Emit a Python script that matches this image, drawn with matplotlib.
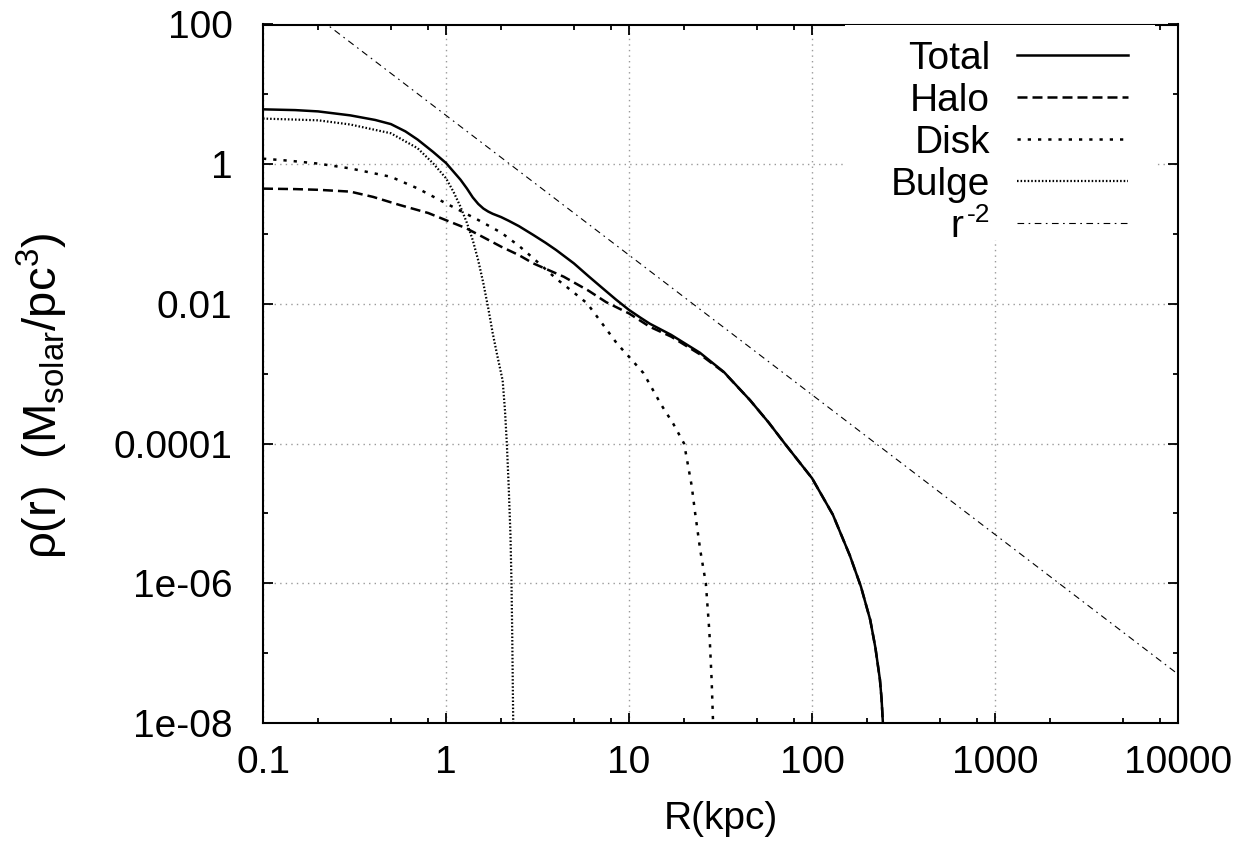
import numpy as np
import matplotlib
matplotlib.use("Agg")
import matplotlib.pyplot as plt
from matplotlib.ticker import FixedLocator, NullFormatter
from matplotlib.patches import Rectangle
from matplotlib.lines import Line2D

plt.rcParams["font.family"] = ["Liberation Sans", "DejaVu Sans"]
plt.rcParams["mathtext.fontset"] = "custom"
plt.rcParams["mathtext.rm"] = "Liberation Sans"
plt.rcParams["mathtext.default"] = "regular"

# Density profiles (R in kpc, rho in Msolar/pc^3)
r_total = [0.1, 0.15, 0.2, 0.3, 0.41, 0.5, 0.6, 0.7, 0.85, 1.0, 1.1, 1.2, 1.3, 1.4, 1.5, 1.6,
           1.7, 1.8, 2.0, 2.2, 2.5, 3.0, 3.5, 4.0, 5.0, 6.0, 7.0, 8.5, 10, 11.5, 13, 17, 24.4,
           33, 45.8, 58, 71, 100, 130, 161, 185, 208, 222, 235, 240, 244]
rho_total = [6.1, 5.95, 5.7, 5.0, 4.3, 3.75, 2.95, 2.25, 1.5, 1.04, 0.78, 0.6, 0.45, 0.335, 0.27,
             0.232, 0.21, 0.195, 0.175, 0.155, 0.13, 0.097, 0.075, 0.059, 0.038, 0.025, 0.0177,
             0.0115, 0.0082, 0.0064, 0.0052, 0.0036, 0.002, 0.00106, 4.2e-4, 2.0e-4, 1e-4,
             3.2e-5, 9.6e-6, 2.5e-6, 9e-7, 3e-7, 1.2e-7, 4.2e-8, 2.2e-8, 1e-8]

r_halo = [0.1, 0.15, 0.2, 0.3, 0.4, 0.56, 0.8, 1.05, 1.29, 1.6, 2.0, 2.5, 3.0, 4.4, 6.0, 7.5,
          10, 13, 17, 24.4, 33, 45.8, 58, 71, 100, 130, 161, 185, 208, 222, 235, 240, 244]
rho_halo = [0.447, 0.44, 0.43, 0.405, 0.34, 0.26, 0.2, 0.15, 0.121, 0.09, 0.066, 0.05, 0.038,
            0.0245, 0.0155, 0.0106, 0.0073, 0.0047, 0.0034, 0.0019, 0.00105, 4.2e-4, 2.0e-4,
            1e-4, 3.2e-5, 9.6e-6, 2.5e-6, 9e-7, 3e-7, 1.2e-7, 4.2e-8, 2.2e-8, 1e-8]

r_disk = [0.1, 0.14, 0.2, 0.3, 0.5, 0.7, 1.0, 1.5, 2.0, 2.5, 3.0, 4.0, 5.0, 5.9, 6.9, 8.6, 10,
          12, 15, 17.5, 20, 22, 23, 24.5, 26.3, 27.5, 28.3, 28.8]
rho_disk = [1.2, 1.12, 1.02, 0.87, 0.66, 0.45, 0.275, 0.159, 0.105, 0.068, 0.045, 0.023, 0.0145,
            0.0102, 0.0059, 0.0027, 0.00175, 0.00102, 3.6e-4, 1.9e-4, 1e-4, 2.5e-5, 1e-5, 3e-6,
            1e-6, 2e-7, 4e-8, 1e-8]

r_bulge = [0.1, 0.2, 0.3, 0.5, 0.7, 0.85, 1.0, 1.1, 1.2, 1.3, 1.4, 1.5, 1.6, 1.7, 1.8, 1.9,
           2.04, 2.1, 2.15, 2.2, 2.25, 2.28, 2.3, 2.33]
rho_bulge = [4.5, 4.25, 3.7, 2.77, 1.69, 1.03, 0.63, 0.4, 0.246, 0.145, 0.082, 0.042, 0.0197,
             0.0088, 0.0038, 0.0019, 8e-4, 3e-4, 1e-4, 2.5e-5, 5e-6, 1e-6, 2e-7, 1e-8]

r_pow = [0.1, 10000]
rho_pow = [500, 5e-8]

x_ticks = [0.1, 1, 10, 100, 1000, 10000]
x_labels = ["0.1", "1", "10", "100", "1000", "10000"]
x_minor = [m * 10.0 ** e for e in range(-1, 4) for m in (2, 5, 8)]
y_ticks = [1e-8, 1e-6, 1e-4, 1e-2, 1, 100]
y_labels = ["1e-08", "1e-06", "0.0001", "0.01", "1", "100"]
y_minor = [1e-7, 1e-5, 1e-3, 1e-1, 10]

W, H, DPI = 1252, 855, 100
fig = plt.figure(figsize=(W / DPI, H / DPI), dpi=DPI)
L, R, T, B = 263, 1178, 24.5, 723
ax = fig.add_axes([L / W, 1 - B / H, (R - L) / W, (B - T) / H])

ax.set_xscale("log")
ax.set_yscale("log")
ax.set_xlim(0.1, 10000)
ax.set_ylim(1e-8, 100)

ax.plot(r_total, rho_total, color="black", lw=1.8, zorder=4)
ax.plot(r_halo, rho_halo, color="black", lw=1.8, dashes=(4, 2), zorder=4)
ax.plot(r_disk, rho_disk, color="black", lw=1.8, dashes=(1.3, 2.8), zorder=4)
ax.plot(r_bulge, rho_bulge, color="black", lw=1.6, dashes=(0.7, 0.9), zorder=4)
ax.plot(r_pow, rho_pow, color="black", lw=0.8, dashes=(6, 4, 1.5, 4), zorder=4)

# ticks like gnuplot: inward, mirrored
ax.xaxis.set_major_locator(FixedLocator(x_ticks))
ax.xaxis.set_minor_locator(FixedLocator(x_minor))
ax.yaxis.set_major_locator(FixedLocator(y_ticks))
ax.yaxis.set_minor_locator(FixedLocator(y_minor))
ax.xaxis.set_minor_formatter(NullFormatter())
ax.yaxis.set_minor_formatter(NullFormatter())
ax.set_xticklabels(x_labels)
ax.set_yticklabels(y_labels)
ax.tick_params(which="both", direction="in", top=True, right=True, labelsize=28, width=1.3)
ax.tick_params(axis="x", which="major", length=7, pad=16)
ax.tick_params(axis="y", which="major", length=7, pad=22)
ax.tick_params(which="minor", length=3.5)

ax.grid(which="major", color="#9a9a9a", linestyle=(0, (1, 3)), linewidth=1.0)
ax.set_axisbelow(True)
for s in ax.spines.values():
    s.set_linewidth(1.5)

ax.set_xlabel("R(kpc)", fontsize=28)
ax.xaxis.set_label_coords(0.5, -0.112)
ax.set_ylabel("ρ(r)  (M$_{solar}$/pc$^{3}$)", fontsize=34)
ax.yaxis.set_label_coords(-0.211, 0.468)

# legend drawn by hand: right-aligned text, opaque background
ax.add_patch(Rectangle((0.636, 0.6915), 0.339, 0.3085, transform=ax.transAxes,
                       facecolor="white", edgecolor="none", zorder=3))
labels = ["Total", "Halo", "Disk", "Bulge", "r"]
styles = [dict(lw=1.8), dict(lw=1.8, dashes=(4, 2)), dict(lw=1.8, dashes=(1.3, 2.8)),
          dict(lw=1.6, dashes=(0.7, 0.9)), dict(lw=0.8, dashes=(6, 4, 1.5, 4))]
for i, (lab, st) in enumerate(zip(labels, styles)):
    yc = 1 - (30.5 + 42 * i) / (B - T)
    xr = 0.7945
    if lab == "r":
        xr = 0.7945 - 27 / (R - L)
        ax.text(0.7945, yc + 1 / (B - T), "-2", transform=ax.transAxes, ha="right",
                va="baseline", fontsize=19, zorder=5)
    ax.text(xr, yc - 14 / (B - T), lab, transform=ax.transAxes, ha="right",
            va="baseline", fontsize=28, zorder=5)
    ax.add_line(Line2D([0.824, 0.945], [yc, yc], transform=ax.transAxes, color="black",
                       zorder=5, **st))

fig.savefig("out.png", dpi=DPI)
